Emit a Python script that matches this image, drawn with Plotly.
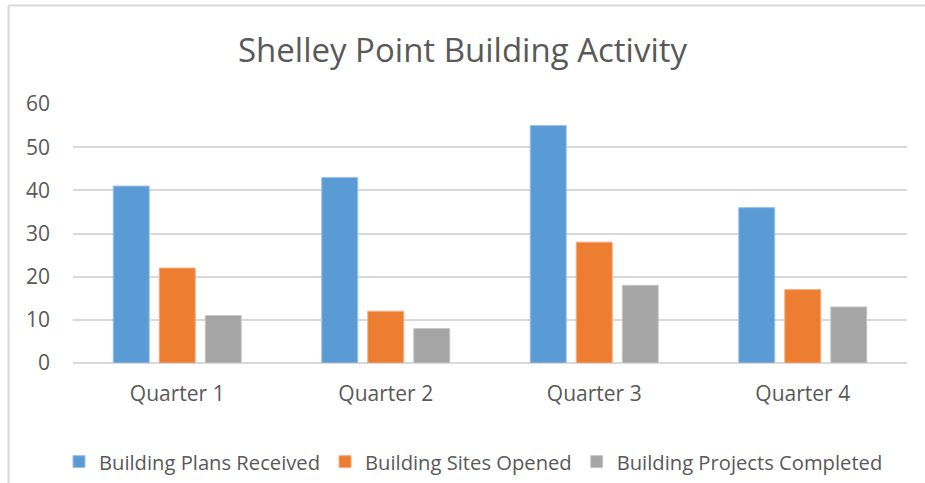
import plotly.graph_objects as go

categories = ["Quarter 1", "Quarter 2", "Quarter 3", "Quarter 4"]
plans_received = [41, 43, 55, 36]
sites_opened = [22, 12, 28, 17]
projects_completed = [11, 8, 18, 13]
series_names = ["Building Plans Received", "Building Sites Opened", "Building Projects Completed"]
colors = ["#5B9BD5", "#ED7D31", "#A5A5A5"]
edge_colors = ["#9DC3E6", "#F4B183", "#C9C9C9"]
y_ticks = [0, 10, 20, 30, 40, 50, 60]

W, H = 925, 483
fig = go.Figure()
for name, vals, c, e in zip(series_names, [plans_received, sites_opened, projects_completed], colors, edge_colors):
    fig.add_trace(go.Bar(name=name, x=categories, y=vals, marker=dict(color=c, line=dict(color=e, width=1))))

ml, mr, mt, mb = 73, 925 - 907, 104, 483 - 363
pw, ph = W - ml - mr, H - mt - mb
fig.update_layout(
    width=W, height=H,
    margin=dict(l=ml, r=mr, t=mt, b=mb, autoexpand=False),
    paper_bgcolor="white", plot_bgcolor="white",
    font=dict(family="Open Sans", color="#595959"),
    title=dict(text="Shelley Point Building Activity", x=0.5, xanchor="center", xref="container",
               yref="container", y=1 - 50 / H, yanchor="middle", font=dict(size=33, color="#595959")),
    barmode="group", bargap=0.338, bargroupgap=0.217,
    showlegend=True,
    legend=dict(orientation="h", xref="paper", yref="paper", x=(59 - ml) / pw, xanchor="left",
                y=(363 - 462) / ph, yanchor="middle",
                font=dict(size=20.2, color="#595959"), itemwidth=30, traceorder="normal"),
    xaxis=dict(showgrid=False, showline=False, ticks="", tickfont=dict(size=21, color="#595959"),
               automargin=False, ticklabelstandoff=16),
    yaxis=dict(range=[0, 60], tickvals=y_ticks, showgrid=True, gridcolor="#D9D9D9", gridwidth=1.5,
               zeroline=True, zerolinecolor="#D9D9D9", zerolinewidth=1.5, showline=False, ticks="",
               tickfont=dict(size=21, color="#595959"), ticklabelstandoff=22, automargin=False),
    shapes=[dict(type="line", xref="paper", yref="paper",
                 x0=(8.5 - ml) / pw, x1=(8.5 - ml) / pw,
                 y0=(363 - 5.5) / ph, y1=(363 - 490) / ph,
                 line=dict(color="#D9D9D9", width=2)),
            dict(type="line", xref="paper", yref="paper",
                 x0=(8.5 - ml) / pw, x1=(930 - ml) / pw,
                 y0=(363 - 5.5) / ph, y1=(363 - 5.5) / ph,
                 line=dict(color="#D9D9D9", width=2))],
)
fig.write_html("out.html", config={"displayModeBar": False},
               post_script="document.body.style.margin='0';")
